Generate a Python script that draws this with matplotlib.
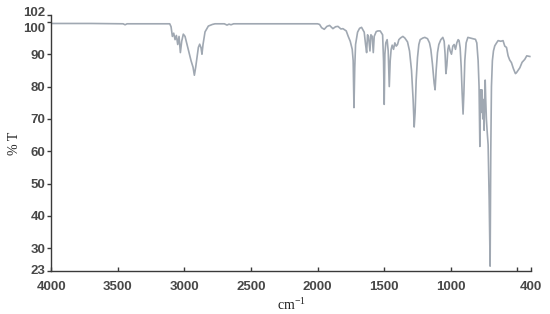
import matplotlib
matplotlib.use('Agg')
import matplotlib.pyplot as plt
from matplotlib.transforms import ScaledTranslation

# spectrum: wavenumber (cm-1) and transmittance (%)
wavenumber = [
    4000, 3700, 3460, 3445, 3430, 3110, 3100, 3090, 3080, 3070, 3060, 3050,
    3040, 3030, 3020, 3008, 2995, 2980, 2965, 2950, 2935, 2925, 2915, 2905,
    2895, 2885, 2875, 2868, 2860, 2845, 2820, 2790, 2770, 2700, 2680, 2665,
    2650, 2630, 2000, 1985, 1970, 1950, 1930, 1910, 1885, 1865, 1847, 1825,
    1810, 1785, 1770, 1755, 1740, 1733, 1727, 1721, 1715, 1700, 1685, 1670,
    1650, 1640, 1632, 1625, 1618, 1607, 1600, 1590, 1582, 1575, 1560, 1547,
    1530, 1512, 1505, 1500, 1495, 1488, 1478, 1470, 1462, 1455, 1448, 1440,
    1430, 1420, 1410, 1400, 1390, 1378, 1360, 1345, 1325, 1310, 1295, 1283,
    1275, 1268, 1260, 1250, 1240, 1230, 1210, 1195, 1175, 1160, 1150, 1138,
    1125, 1118, 1110, 1100, 1090, 1075, 1060, 1050, 1043, 1037, 1030, 1022,
    1015, 1005, 995, 985, 975, 965, 955, 945, 938, 930, 922, 915,
    908, 902, 895, 885, 872, 855, 835, 815, 805, 795, 788, 782,
    778, 772, 767, 760, 755, 750, 746, 742, 738, 733, 727, 720,
    712, 705, 700, 695, 688, 680, 670, 655, 645, 625, 608, 595,
    582, 570, 558, 545, 530, 515, 507, 495, 482, 465, 445, 430,
    420, 407,
]
transmittance = [
    99.5, 99.5, 99.4, 99.1, 99.4, 99.4, 98.5, 95.5, 96.5, 94.5, 95.8, 93.0,
    95.5, 90.5, 94.0, 96.2, 95.5, 93.0, 90.5, 88.0, 86.0, 83.5, 86.0, 89.0,
    92.1, 93.1, 92.0, 90.0, 93.0, 96.9, 98.7, 99.2, 99.4, 99.4, 99.0, 99.3,
    99.1, 99.4, 99.4, 99.2, 98.2, 97.7, 98.6, 98.9, 97.9, 98.5, 98.6, 97.8,
    97.9, 97.2, 95.5, 94.0, 91.5, 88.0, 73.5, 86.0, 93.0, 96.8, 98.0, 98.3,
    96.8, 93.0, 90.5, 96.0, 95.5, 91.0, 96.0, 95.5, 90.5, 95.5, 97.0, 97.2,
    97.2, 96.0, 88.0, 74.5, 90.0, 93.5, 94.5, 91.0, 80.0, 88.0, 91.5, 92.8,
    91.5, 93.5, 92.5, 93.0, 94.5, 95.0, 95.5, 95.0, 93.8, 91.0, 85.0, 76.0,
    67.5, 72.0, 82.0, 89.0, 93.0, 94.5, 95.0, 95.2, 94.8, 93.5, 91.5, 87.0,
    81.0, 79.0, 85.0, 90.5, 93.0, 94.5, 95.2, 94.0, 90.0, 84.0, 86.5, 91.5,
    92.8, 91.0, 90.0, 92.5, 93.0, 91.5, 93.5, 94.5, 94.2, 92.0, 86.0, 78.0,
    71.5, 78.0, 88.0, 93.5, 95.2, 95.0, 94.8, 94.6, 93.5, 88.0, 80.0, 61.5,
    79.0, 72.0, 79.0, 70.0, 76.0, 66.5, 76.0, 82.0, 76.0, 70.0, 66.0, 62.0,
    45.0, 24.5, 60.0, 80.0, 88.0, 91.0, 92.6, 93.6, 94.2, 94.0, 94.2, 92.5,
    92.1, 89.5, 88.2, 87.4, 85.5, 84.0, 84.3, 85.0, 85.8, 87.5, 88.4, 89.5,
    89.4, 89.3,
]

x_ticks = [4000, 3500, 3000, 2500, 2000, 1500, 1000, 500, 400]
x_labels = ['4000', '3500', '3000', '2500', '2000', '1500', '1000', '', '400']
y_ticks = [23, 30, 40, 50, 60, 70, 80, 90, 100, 102]

plt.rcParams['font.family'] = ['Liberation Sans', 'DejaVu Sans']

fig = plt.figure(figsize=(5.5, 3.14), dpi=100)
ax = fig.add_axes([0.093, 0.137, 0.872, 0.814])

ax.plot(wavenumber, transmittance, color='#a0a8b2', lw=1.2)

ax.set_xlim(4000, 400)
ax.set_ylim(23, 102)
ax.set_xticks(x_ticks)
ax.set_xticklabels(x_labels)
ax.set_yticks(y_ticks)

for s in ['top', 'right']:
    ax.spines[s].set_visible(False)
for s in ['left', 'bottom']:
    ax.spines[s].set_color('#3a3a3a')
    ax.spines[s].set_linewidth(1.0)

ax.tick_params(axis='y', direction='out', length=3, width=1, color='#3a3a3a',
               labelsize=9.5, labelcolor='#474747', pad=1)
ax.tick_params(axis='x', direction='in', length=3, width=1, color='#3a3a3a',
               labelsize=9.5, labelcolor='#474747', pad=7)
for lab in ax.get_xticklabels() + ax.get_yticklabels():
    lab.set_fontweight('bold')

# 102 and 100 sit close together: nudge them apart a little, as in the original
ylabs = ax.get_yticklabels()
ylabs[-1].set_transform(ylabs[-1].get_transform() + ScaledTranslation(0, 3 / 72, fig.dpi_scale_trans))
ylabs[-2].set_transform(ylabs[-2].get_transform() + ScaledTranslation(0, -4 / 72, fig.dpi_scale_trans))
ylabs[0].set_transform(ylabs[0].get_transform() + ScaledTranslation(0, 1 / 72, fig.dpi_scale_trans))

ax.set_ylabel('% T', family='Liberation Serif', fontsize=10, color='#222222',
              labelpad=2)
ax.set_xlabel('cm$^{\\mathregular{-1}}$', family='Liberation Serif', fontsize=10,
              color='#222222', labelpad=3)

fig.savefig('out.png', dpi=100)
